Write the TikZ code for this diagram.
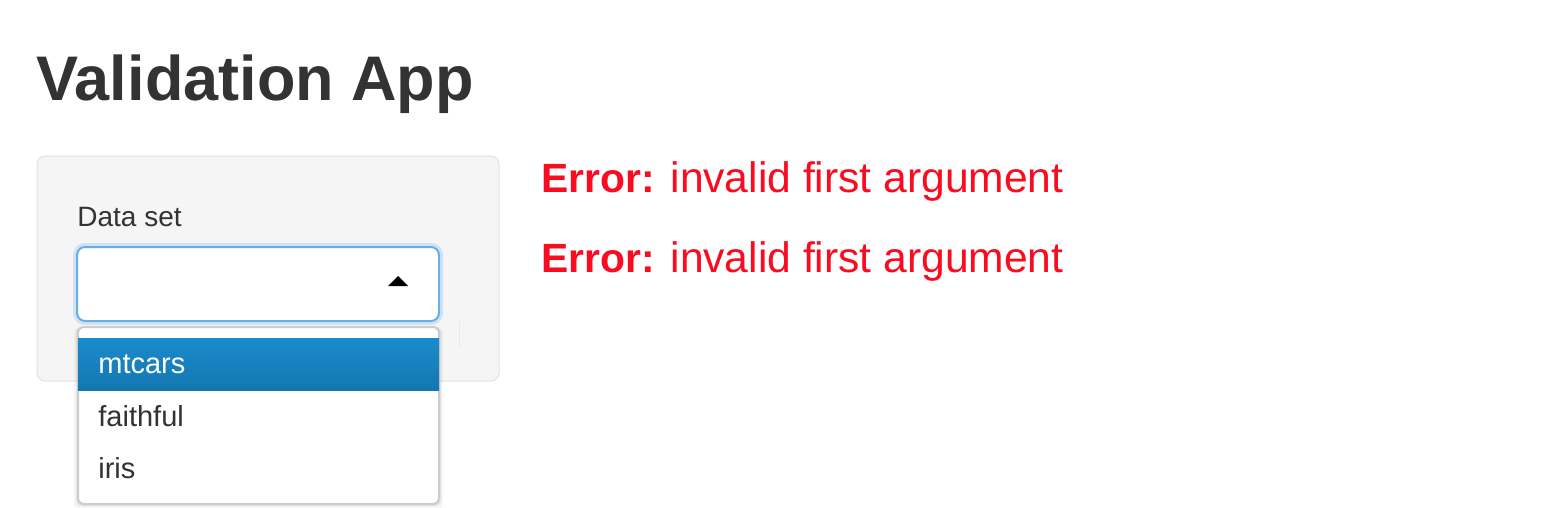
\documentclass[tikz,border=0pt]{standalone}
\usepackage{fontspec}
\setmainfont{Liberation Sans}
\usetikzlibrary{positioning}
\definecolor{textgray}{HTML}{333333}
\definecolor{wellfill}{HTML}{F5F5F5}
\definecolor{wellline}{HTML}{E3E3E3}
\definecolor{focusblue}{HTML}{66AFE9}
\definecolor{menuline}{HTML}{CCCCCC}
\definecolor{activetop}{RGB}{26,139,204}
\definecolor{activebot}{RGB}{20,119,177}
\definecolor{errred}{RGB}{250,12,32}
\newcommand{\errword}{{\bfseries\fontsize{20.4}{25}\selectfont Error:}}
\tikzset{
  label/.style={anchor=base west, inner sep=0pt, text=textgray},
  item/.style={label, font=\fontsize{14.5}{17}\selectfont},
  errmsg/.style={anchor=base west, inner sep=0pt, text=errred, font=\fontsize{21.3}{25}\selectfont},
}
\begin{document}
\begin{tikzpicture}[x=0.5pt, y=-0.5pt]
  \useasboundingbox[fill=white] (0,0) rectangle (1547,508);
  % title
  \node[label, font=\fontsize{31.5}{36}\bfseries] (title) at (36,101) {Validation App};
  % sidebar well
  \draw[wellline, fill=wellfill, line width=0.5pt, rounded corners=4pt] (37,156) rectangle (499,381);
  \node[label, font=\fontsize{14}{17}\selectfont] (datalbl) at (77,226) {Data set};
  % select input with focus glow
  \draw[focusblue, opacity=0.25, line width=4pt, rounded corners=4pt] (77,247) rectangle (439,321);
  \draw[focusblue, fill=white, line width=1pt, rounded corners=4pt] (77,247) rectangle (439,321);
  \fill[black] (388,286) -- (408,286) -- (398,276) -- cycle;
  \draw[gray!18, line width=0.5pt] (459,321) -- (459,347);
  % dropdown menu
  \fill[black, opacity=0.04, rounded corners=3pt] (74,327) rectangle (443,509);
  \fill[black, opacity=0.07, rounded corners=3pt] (76,327) rectangle (441,506);
  \draw[menuline, fill=white, line width=1pt, rounded corners=3pt] (78,327) rectangle (439,504);
  \shade[top color=activetop, bottom color=activebot] (78,338) rectangle (439,390);
  \node[item, text=white] (mtcars) at (98,373) {mtcars};
  \node[item] (faithful) at (98,426) {faithful};
  \node[item] (iris) at (98,478) {iris};
  % output errors
  \node[errmsg] (err1) at (541,192) {\errword{} invalid first argument};
  \node[errmsg] (err2) at (541,272) {\errword{} invalid first argument};
\end{tikzpicture}
\end{document}
